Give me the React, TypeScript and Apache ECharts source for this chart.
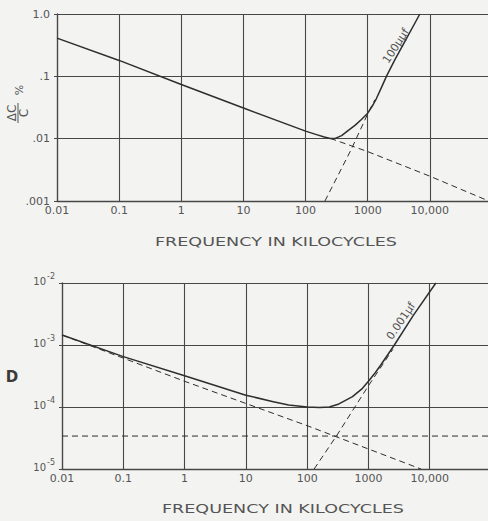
import React, { useEffect, useRef } from "react";
import * as echarts from "echarts";

// ---- tick labels ----
const xTickLabels = ["0.01", "0.1", "1", "10", "100", "1000", "10,000", ""];
const topYTickLabels = [".001", ".01", ".1", "1.0"];
const botYExponents = ["-5", "-4", "-3", "-2"];

// ---- top chart (ΔC/C %) ----
const topSolidFreq = [0.01, 0.1, 1, 10, 100, 150, 200, 250, 300, 380, 500, 630, 800, 1000, 1220, 1380, 1660, 2000, 2700, 3700, 6900];
const topSolidVal = [0.41, 0.18, 0.074, 0.031, 0.0132, 0.0116, 0.0106, 0.0101, 0.0101, 0.0112, 0.0138, 0.0165, 0.0205, 0.0256, 0.035, 0.044, 0.066, 0.1, 0.18, 0.32, 1.0];
const topDescFreq = [250, 1000, 10000, 100000];
const topDescVal = [0.0101, 0.0062, 0.0025, 0.00095];
const topRiseFreq = [205, 550, 1000, 1300];
const topRiseVal = [0.001, 0.0069, 0.025, 0.042];

// ---- bottom chart (D) ----
const botSolidFreq = [0.01, 0.1, 1, 10, 28, 50, 100, 160, 230, 330, 550, 800, 1000, 1300, 1600, 2650, 5400, 12600];
const botSolidVal = [1.45e-3, 6.5e-4, 3.2e-4, 1.55e-4, 1.22e-4, 1.08e-4, 1.0e-4, 0.98e-4, 1.0e-4, 1.12e-4, 1.47e-4, 2.0e-4, 2.6e-4, 3.6e-4, 4.8e-4, 1.0e-3, 3.0e-3, 1.0e-2];
const botDescFreq = [0.01, 1, 100, 7200];
const botDescVal = [1.45e-3, 2.6e-4, 5e-5, 1e-5];
const botRiseFreq = [130, 300, 1000, 2500];
const botRiseVal = [1e-5, 3.4e-5, 2.2e-4, 8.5e-4];
const botFlatFreq = [0.01, 100000];
const botFlatVal = [3.4e-5, 3.4e-5];

const INK = "#2e2e2e";
const GRID = "#474747";
const TXT = "#555555";
const BG = "#f3f3f1";
const FONT = "DejaVu Sans";

const pairs = (xs: number[], ys: number[]) => xs.map((x, i) => [x, ys[i]]);
const dec = (v: number) => Math.round(Math.log10(v));

export default function App() {
  const ref = useRef<HTMLDivElement>(null);
  useEffect(() => {
    if (!ref.current) return;
    const chart = echarts.init(ref.current, null, { renderer: "svg" });

    const xAxisBase = (gridIndex: number) => ({
      gridIndex,
      type: "log",
      logBase: 10,
      min: 0.01,
      max: 100000,
      splitNumber: 7,
      axisLine: { show: true, onZero: false, lineStyle: { color: GRID, width: 1.3 } },
      axisTick: { show: false },
      splitLine: { show: true, lineStyle: { color: GRID, width: 1.1 } },
      axisLabel: {
        formatter: (v: number) => xTickLabels[dec(v) + 2] ?? "",
        color: TXT,
        fontSize: 11,
        fontFamily: FONT,
        margin: 4,
      },
    });

    const line = (xi: number, xs: number[], ys: number[], dashed: boolean) => ({
      type: "line",
      xAxisIndex: xi,
      yAxisIndex: xi,
      data: pairs(xs, ys),
      symbol: "none",
      smooth: false,
      lineStyle: dashed
        ? { color: INK, width: 1, type: [6, 4] }
        : { color: INK, width: 1.5, join: "round" },
      silent: true,
    });

    const textEl = (x: number, y: number, text: string, extra: any = {}, style: any = {}) => ({
      type: "text",
      x,
      y,
      ...extra,
      style: {
        text,
        fill: TXT,
        fontSize: 11,
        fontFamily: FONT,
        textAlign: "center",
        textVerticalAlign: "middle",
        ...style,
      },
    });

    chart.setOption({
      animation: false,
      backgroundColor: BG,
      grid: [
        { left: 57, top: 14, width: 435, height: 187 },
        { left: 62, top: 283, width: 429, height: 186 },
      ],
      xAxis: [xAxisBase(0), xAxisBase(1)],
      yAxis: [
        {
          gridIndex: 0,
          type: "log",
          logBase: 10,
          min: 0.001,
          max: 1,
          axisLine: { show: true, lineStyle: { color: GRID, width: 1.3 } },
          axisTick: { show: true, length: 3, lineStyle: { color: GRID } },
          splitLine: { show: true, lineStyle: { color: GRID, width: 1.1 } },
          axisLabel: {
            formatter: (v: number) => topYTickLabels[dec(v) + 3] ?? "",
            color: TXT,
            fontSize: 11,
            fontFamily: FONT,
            margin: 7,
          },
        },
        {
          gridIndex: 1,
          type: "log",
          logBase: 10,
          min: 0.00001,
          max: 0.01,
          axisLine: { show: true, lineStyle: { color: GRID, width: 1.3 } },
          axisTick: { show: true, length: 3, lineStyle: { color: GRID } },
          splitLine: { show: true, lineStyle: { color: GRID, width: 1.1 } },
          axisLabel: {
            formatter: (v: number) => `{b|10}{s|${botYExponents[dec(v) + 5] ?? ""}}`,
            color: TXT,
            fontFamily: FONT,
            margin: 7,
            padding: [0, 0, 6, 0],
            rich: {
              b: { fontSize: 10, fontFamily: FONT, color: TXT, verticalAlign: "bottom", lineHeight: 12 },
              s: { fontSize: 8, fontFamily: FONT, color: TXT, verticalAlign: "bottom", lineHeight: 12, padding: [0, 0, 6, 1] },
            },
          },
        },
      ],
      series: [
        line(0, topSolidFreq, topSolidVal, false),
        line(0, topDescFreq, topDescVal, true),
        line(0, topRiseFreq, topRiseVal, true),
        line(1, botSolidFreq, botSolidVal, false),
        line(1, botDescFreq, botDescVal, true),
        line(1, botRiseFreq, botRiseVal, true),
        line(1, botFlatFreq, botFlatVal, true),
      ],
      graphic: [
        textEl(155, 242, "FREQUENCY IN KILOCYCLES", { scaleX: 1.35 }, { fontSize: 13, textAlign: "left" }),
        textEl(162, 509, "FREQUENCY IN KILOCYCLES", { scaleX: 1.35 }, { fontSize: 13, textAlign: "left" }),
        textEl(12, 377, "D", {}, { fill: "#3a3a3a", fontSize: 15, fontWeight: "bold" }),
        {
          type: "group",
          x: 18,
          y: 113,
          rotation: Math.PI / 2,
          children: [
            textEl(0, -6, "ΔC", {}, { fontSize: 12 }),
            {
              type: "line",
              shape: { x1: -10, y1: 0, x2: 10, y2: 0 },
              style: { stroke: TXT, lineWidth: 1 },
            },
            textEl(0, 6, "C", {}, { fontSize: 12 }),
            textEl(23, 1, "%", {}, { fontSize: 11 }),
          ],
        },
        textEl(396, 46, "100μμf", { rotation: (57 * Math.PI) / 180 }, { fontSize: 11 }),
        textEl(401, 321, "0.001μf", { rotation: (56 * Math.PI) / 180 }, { fontSize: 11 }),
      ],
    });
    return () => chart.dispose();
  }, []);

  return (
    <div
      ref={ref}
      style={{ position: "fixed", left: 0, top: 0, width: 500, height: 521 }}
    />
  );
}
